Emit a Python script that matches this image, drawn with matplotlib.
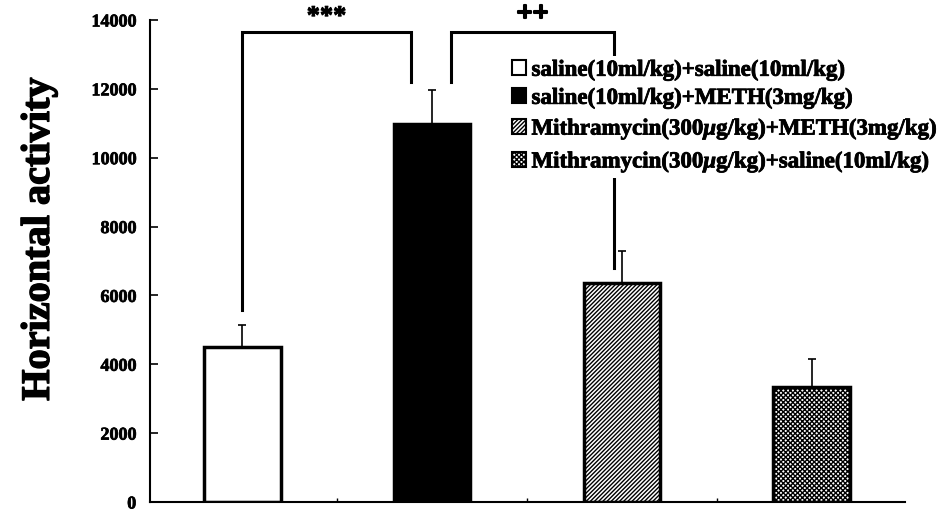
import matplotlib
matplotlib.use("Agg")
import matplotlib.pyplot as plt
from matplotlib.patches import Patch
import matplotlib.patheffects as pe

labels = ["saline(10ml/kg)+saline(10ml/kg)",
          "saline(10ml/kg)+METH(3mg/kg)",
          "Mithramycin(300$\\mu$g/kg)+METH(3mg/kg)",
          "Mithramycin(300$\\mu$g/kg)+saline(10ml/kg)"]
means = [4500, 10980, 6360, 3340]
errors = [650, 990, 930, 810]
yticks = [0, 2000, 4000, 6000, 8000, 10000, 12000, 14000]
sig_marks = ["***", "++"]

plt.rcParams['font.family'] = ['Liberation Serif', 'DejaVu Serif']
plt.rcParams['font.weight'] = 'bold'
plt.rcParams['mathtext.fontset'] = 'custom'
plt.rcParams['mathtext.it'] = 'Liberation Serif:italic:bold'
plt.rcParams['mathtext.rm'] = 'Liberation Serif:bold'
plt.rcParams['hatch.linewidth'] = 1.0

heavy = [pe.withStroke(linewidth=0.7, foreground='black')]

fig = plt.figure(figsize=(9.51, 5.12), dpi=100)
ax = fig.add_axes([0.1577, 0.0195, 0.7939, 0.9415])

x = list(range(len(means)))
faces = ['white', 'black', 'white', 'white']
hatches = [None, None, '////////', 'xxxxxxx']
for xi, m, e, fc, h in zip(x, means, errors, faces, hatches):
    ax.bar(xi, m, width=0.405, color=fc, edgecolor='black', linewidth=2.5,
           hatch=h, zorder=2)
    ax.errorbar(xi, m, yerr=[[0], [e]], fmt='none', ecolor='black',
                elinewidth=1.2, capsize=3, capthick=1.2, zorder=1)

# significance brackets
top = 13650
ax.plot([0, 0, 0.89, 0.89], [5575, top, top, 12200], color='black', lw=2.2,
        solid_joinstyle='miter', zorder=3)
ax.plot([1.1, 1.1, 1.96, 1.96], [12200, top, top, 6800], color='black', lw=2.2,
        solid_joinstyle='miter', zorder=1)
ax.text(0.445, top + 100, sig_marks[0], ha='center', va='bottom', fontsize=19,
        fontweight='bold', path_effects=heavy)
ax.text(1.53, top + 150, sig_marks[1], ha='center', va='bottom', fontsize=20,
        fontweight='bold', path_effects=[pe.withStroke(linewidth=1.5, foreground='black')])

ax.set_xlim(-0.485, 3.49)
ax.set_ylim(0, 14000)
ax.set_yticks(yticks)
ax.set_yticklabels([str(t) for t in yticks], fontsize=13, fontweight='bold')
for t in ax.get_yticklabels():
    t.set_path_effects([pe.withStroke(linewidth=0.5, foreground='black')])
ax.tick_params(axis='y', direction='in', length=6, width=1.2, pad=10)
ax.set_xticks([0.5, 1.5, 2.5])
ax.set_xticklabels([])
ax.tick_params(axis='x', direction='in', length=3, width=1.0)
for s in ['top', 'right']:
    ax.spines[s].set_visible(False)
for s in ['left', 'bottom']:
    ax.spines[s].set_linewidth(1.5)

yl = ax.set_ylabel("Horizontal activity", fontsize=29, fontweight='bold')
yl.set_path_effects([pe.withStroke(linewidth=1.0, foreground='black')])
ax.yaxis.set_label_coords(-0.122, 0.545)

handles = [Patch(facecolor=fc, edgecolor='black', linewidth=1.5, hatch=h)
           for fc, h in zip(faces, hatches)]
leg = ax.legend(handles, labels, loc='upper left', bbox_to_anchor=(0.475, 0.925),
                frameon=True, fontsize=16.5, handlelength=0.6, handleheight=0.6,
                handletextpad=0.25, labelspacing=0.3, borderpad=0.15,
                borderaxespad=0)
leg.get_frame().set_edgecolor('none')
leg.get_frame().set_facecolor('white')
leg.get_frame().set_alpha(1)
leg.set_zorder(5)
for t in leg.get_texts():
    t.set_fontweight('bold')
    t.set_path_effects([pe.withStroke(linewidth=0.6, foreground='black')])

fig.savefig("out.png", dpi=100, facecolor='white')
